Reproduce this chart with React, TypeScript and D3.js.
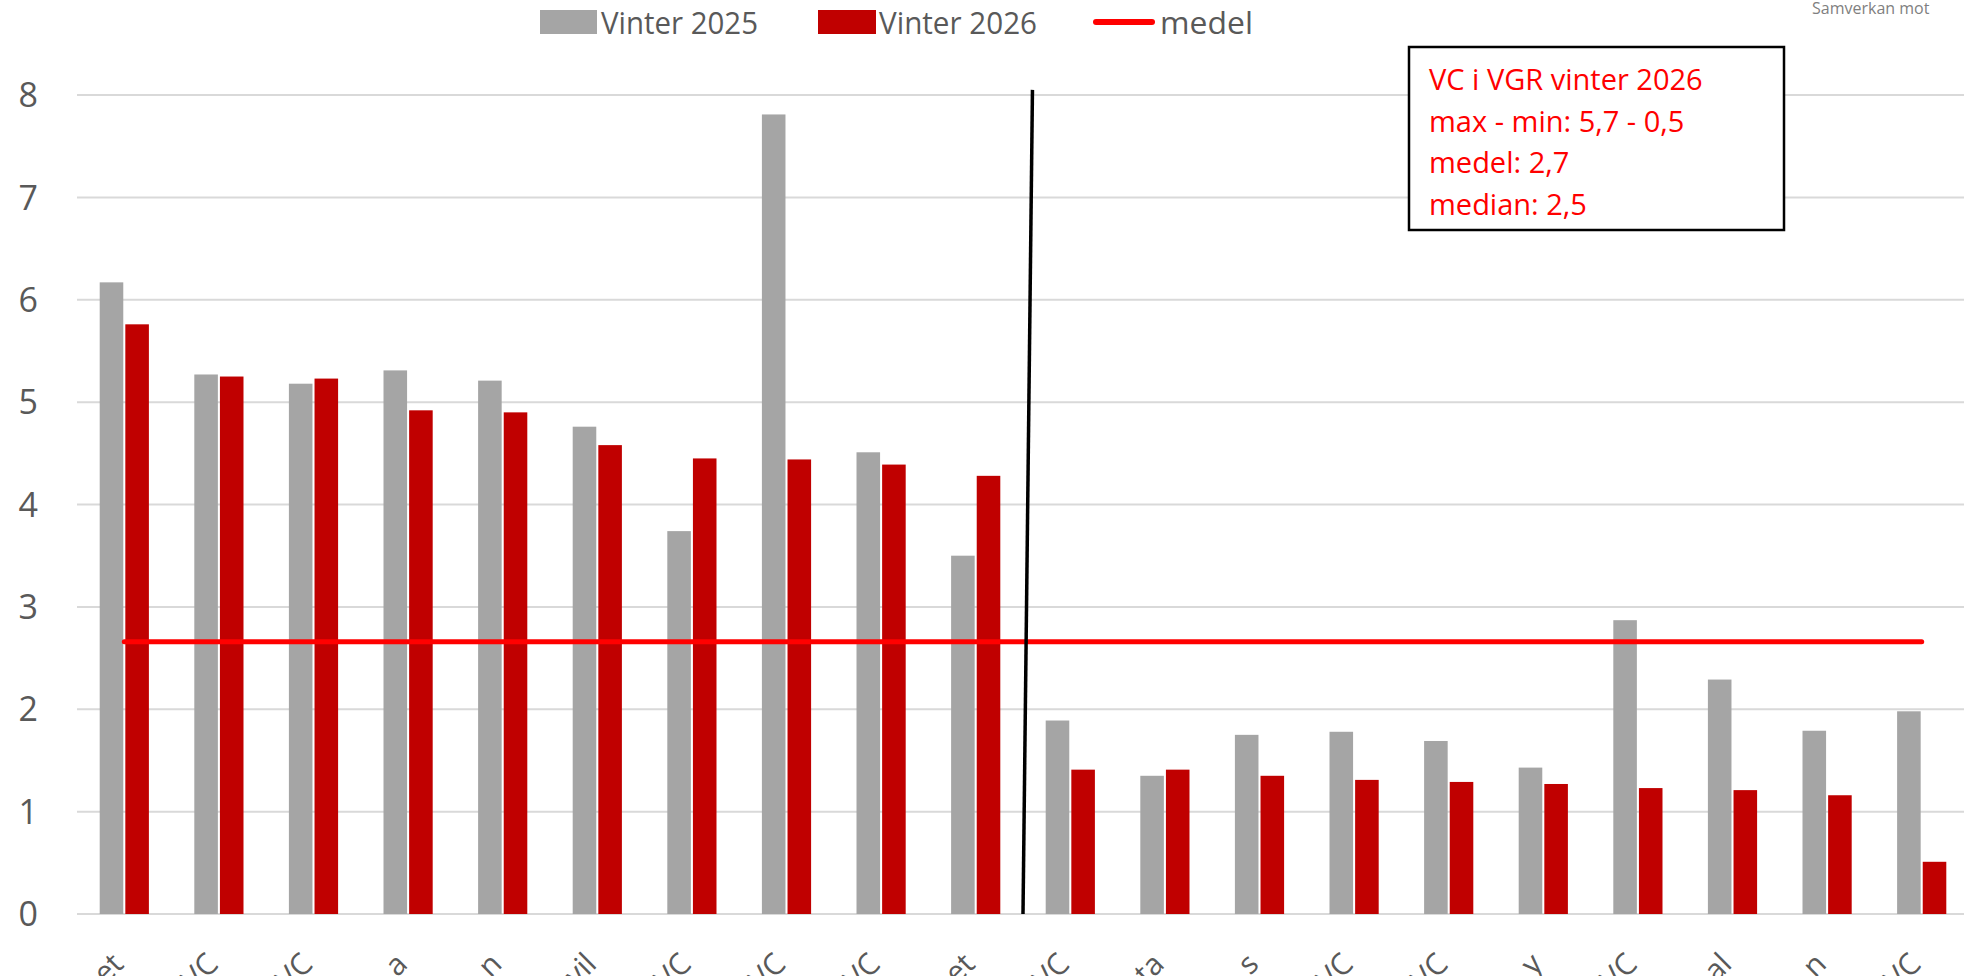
import React from 'react';
import * as d3 from 'd3';

// visible tails of the (cut-off) rotated category labels
const categories = ['et', 'VC', 'VC', 'a', 'n', 'vil', 'VC', 'VC', 'VC', 'et', 'VC', 'ta', 's', 'VC', 'VC', 'y', 'VC', 'al', 'n', 'VC'];
const vinter2025 = [6.17, 5.27, 5.18, 5.31, 5.21, 4.76, 3.74, 7.81, 4.51, 3.5, 1.89, 1.35, 1.75, 1.78, 1.69, 1.43, 2.87, 2.29, 1.79, 1.98];
const vinter2026 = [5.76, 5.25, 5.23, 4.92, 4.9, 4.58, 4.45, 4.44, 4.39, 4.28, 1.41, 1.41, 1.35, 1.31, 1.29, 1.27, 1.23, 1.21, 1.16, 0.51];
const medel = 2.66;
const yTicks = [0, 1, 2, 3, 4, 5, 6, 7, 8];
const seriesNames = ['Vinter 2025', 'Vinter 2026'];
const boxLines = ['VC i VGR vinter 2026', 'max - min: 5,7 - 0,5', 'medel: 2,7', 'median: 2,5'];
const dividerAfter = 9;
const dividerTop = 8.05;

const W = 1964, H = 976;
const FONT = '"Open Sans", sans-serif';
const GRAY = '#a5a5a5', RED = '#c00000';

export default function App() {
  const idx = categories.map((d, i) => String(i));
  const x0 = d3.scaleBand().domain(idx).range([77, 1969]).paddingInner(0.48).paddingOuter(0.24);
  const x1 = d3.scaleBand().domain(seriesNames).range([0, x0.bandwidth()]).paddingInner(0.08);
  const y = d3.scaleLinear().domain([0, 8]).range([914, 95]);
  const step = x0.step();
  const center = (i) => x0(String(i)) + x0.bandwidth() / 2;
  const divBottom = x0(String(dividerAfter + 1)) - (step * 0.48) / 2;
  const divTopX = divBottom + step * 0.1;

  return (
    <svg width={W} height={H} style={{ position: 'absolute', left: 0, top: 0, display: 'block', background: '#fff' }} fontFamily={FONT}>
      {/* gridlines */}
      {yTicks.map(t => (
        <g key={t}>
          <line x1={77} x2={W} y1={y(t)} y2={y(t)} stroke="#d9d9d9" strokeWidth={2} />
          <text x={38} y={y(t)} dy="0.36em" textAnchor="end" fontSize={34} fill="#595959">{t}</text>
        </g>
      ))}

      {/* bars */}
      {categories.map((c, i) => (
        <g key={i} transform={`translate(${x0(String(i))},0)`}>
          <rect x={x1('Vinter 2025')} y={y(vinter2025[i])} width={x1.bandwidth()} height={y(0) - y(vinter2025[i])} fill={GRAY} />
          <rect x={x1('Vinter 2026')} y={y(vinter2026[i])} width={x1.bandwidth()} height={y(0) - y(vinter2026[i])} fill={RED} />
        </g>
      ))}

      {/* x labels, rotated, cut by the bottom edge */}
      {categories.map((c, i) => (
        <text key={'l' + i} transform={`translate(${center(i) - 14},${951}) rotate(-45)`} textAnchor="end" dy="0.7em" fontSize={30} fill="#595959">{c}</text>
      ))}

      {/* mean line */}
      <line x1={center(0)} x2={center(categories.length - 1)} y1={y(medel)} y2={y(medel)} stroke="#ff0000" strokeWidth={5} strokeLinecap="round" />

      {/* divider */}
      <line x1={divBottom} x2={divTopX} y1={y(0)} y2={y(dividerTop)} stroke="#000" strokeWidth={3.5} />

      {/* legend */}
      <rect x={540} y={10} width={57} height={24} fill={GRAY} />
      <text x={601} y={34} fontSize={31} fill="#595959" textLength={157} lengthAdjust="spacingAndGlyphs">{seriesNames[0]}</text>
      <rect x={818} y={10} width={58} height={24} fill={RED} />
      <text x={879} y={34} fontSize={31} fill="#595959" textLength={158} lengthAdjust="spacingAndGlyphs">{seriesNames[1]}</text>
      <line x1={1096} x2={1152} y1={22} y2={22} stroke="#ff0000" strokeWidth={6} strokeLinecap="round" />
      <text x={1160} y={34} fontSize={31} fill="#595959" textLength={93} lengthAdjust="spacingAndGlyphs">medel</text>

      {/* summary box */}
      <rect x={1409} y={47} width={375} height={183} fill="#fff" stroke="#000" strokeWidth={2.5} />
      {boxLines.map((l, i) => (
        <text key={l} x={1429} y={90 + i * 41.5} fontSize={29} fill="#ff0000">{l}</text>
      ))}

      <text x={1812} y={14} fontSize={16} fill="#7f7f7f">Samverkan mot</text>
    </svg>
  );
}
